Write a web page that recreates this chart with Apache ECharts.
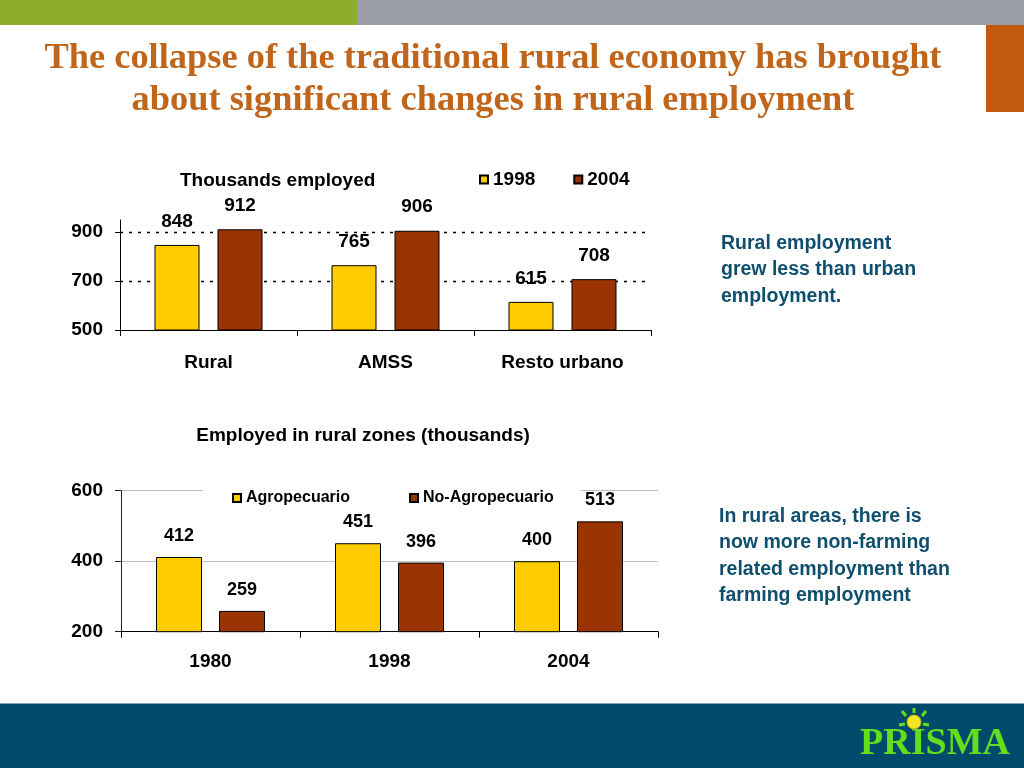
<!DOCTYPE html>
<html>
<head>
<meta charset="utf-8">
<script src="https://cdn.jsdelivr.net/npm/echarts@6/dist/echarts.min.js"></script>
<style>
html,body{margin:0;padding:0;background:#fff;}
#c{width:1024px;height:768px;}
</style>
</head>
<body>
<div id="c"></div>
<script>
// ---- data ----
const topCategories = ['Rural', 'AMSS', 'Resto urbano'];
const topSeriesNames = ['1998', '2004'];
const top1998 = [848, 765, 615];
const top2004 = [912, 906, 708];
const topYTicks = [500, 700, 900];
const topGuideLines = [700, 900];

const botCategories = ['1980', '1998', '2004'];
const botSeriesNames = ['Agropecuario', 'No-Agropecuario'];
const botAgro = [412, 451, 400];
const botNoAgro = [259, 396, 513];

const slideTitle = 'The collapse of the traditional rural economy has brought\nabout significant changes in rural employment';
const topChartTitle = 'Thousands employed';
const botChartTitle = 'Employed in rural zones (thousands)';
const note1 = 'Rural employment\ngrew less than urban\nemployment.';
const note2 = 'In rural areas, there is\nnow more non-farming\nrelated employment than\nfarming employment';

// ---- styles ----
const SANS = "'Liberation Sans', Arial, sans-serif";
const SERIF = "'Liberation Serif', 'Times New Roman', serif";
const YELLOW = '#FFCC00';
const BROWN = '#993300';

const chart = echarts.init(document.getElementById('c'), null, {renderer: 'canvas'});

const valueLabel = (size, dist) => ({
  show: true, position: 'top', distance: dist,
  color: '#000', fontFamily: SANS, fontWeight: 'bold', fontSize: size
});

const option = {
  animation: false,
  backgroundColor: '#fff',
  grid: [
    {left: 120, right: 373, top: 220, bottom: 438, outerBoundsMode: 'none'},
    {left: 121, right: 366, top: 490.7, bottom: 136.3, outerBoundsMode: 'none'}
  ],
  legend: [
    {
      data: topSeriesNames, left: 479, top: 170, padding: 0,
      itemWidth: 8, itemHeight: 8, itemGap: 38, icon: 'rect',
      textStyle: {fontFamily: SANS, fontWeight: 'bold', fontSize: 19, color: '#000'}
    },
    {
      data: botSeriesNames, left: 203, top: 486, padding: [4, 27, 4, 29],
      backgroundColor: '#fff',
      itemWidth: 8, itemHeight: 8, itemGap: 59, icon: 'rect',
      textStyle: {fontFamily: SANS, fontWeight: 'bold', fontSize: 16, color: '#000'}
    }
  ],
  xAxis: [
    {
      type: 'category', gridIndex: 0, data: topCategories,
      axisLine: {show: true, lineStyle: {color: '#000', width: 1}},
      axisTick: {show: true, length: 6, lineStyle: {color: '#000'}},
      axisLabel: {margin: 23, color: '#000', fontFamily: SANS, fontWeight: 'bold', fontSize: 19}
    },
    {
      type: 'category', gridIndex: 1, data: botCategories,
      axisLine: {show: true, lineStyle: {color: '#000', width: 1}},
      axisTick: {show: true, length: 6, lineStyle: {color: '#000'}},
      axisLabel: {margin: 21, color: '#000', fontFamily: SANS, fontWeight: 'bold', fontSize: 19}
    }
  ],
  yAxis: [
    {
      type: 'value', gridIndex: 0, min: 500, max: 950,
      axisLine: {show: true, lineStyle: {color: '#000', width: 1}},
      axisTick: {show: true, length: 5, customValues: topYTicks, lineStyle: {color: '#000'}},
      axisLabel: {customValues: topYTicks, margin: 17, color: '#000', fontFamily: SANS, fontWeight: 'bold', fontSize: 19},
      splitLine: {show: false}
    },
    {
      type: 'value', gridIndex: 1, min: 200, max: 600, interval: 200,
      axisLine: {show: true, lineStyle: {color: '#222', width: 1}},
      axisTick: {show: true, length: 6, lineStyle: {color: '#222'}},
      axisLabel: {margin: 18, color: '#000', fontFamily: SANS, fontWeight: 'bold', fontSize: 19},
      splitLine: {show: true, showMinLine: false, lineStyle: {color: '#BFBFBF', width: 1}}
    }
  ],
  series: [
    {
      name: topSeriesNames[0], type: 'bar', xAxisIndex: 0, yAxisIndex: 0,
      data: top1998, barWidth: 45, barGap: '40%',
      itemStyle: {color: YELLOW, borderColor: '#000', borderWidth: 1},
      label: valueLabel(19, 14),
      markLine: {
        silent: true, symbol: 'none', z: 1,
        label: {show: false},
        lineStyle: {color: '#000', width: 1.4, type: [3, 6]},
        data: topGuideLines.map(v => ({yAxis: v}))
      }
    },
    {
      name: topSeriesNames[1], type: 'bar', xAxisIndex: 0, yAxisIndex: 0,
      data: top2004, barWidth: 45, barGap: '40%',
      itemStyle: {color: BROWN, borderColor: '#000', borderWidth: 1},
      label: valueLabel(19, 14)
    },
    {
      name: botSeriesNames[0], type: 'bar', xAxisIndex: 1, yAxisIndex: 1,
      data: botAgro, barWidth: 46, barGap: '37%',
      itemStyle: {color: YELLOW, borderColor: '#000', borderWidth: 1},
      label: valueLabel(18, 12)
    },
    {
      name: botSeriesNames[1], type: 'bar', xAxisIndex: 1, yAxisIndex: 1,
      data: botNoAgro, barWidth: 46, barGap: '37%',
      itemStyle: {color: BROWN, borderColor: '#000', borderWidth: 1},
      label: valueLabel(18, 12)
    }
  ],
  graphic: [
    // top decorative bars
    {type: 'rect', z: 10, shape: {x: 0, y: 0, width: 357, height: 25}, style: {fill: '#8DAE2A'}},
    {type: 'rect', z: 10, shape: {x: 357, y: 0, width: 667, height: 25}, style: {fill: '#9D9FA8'}},
    {type: 'rect', z: 10, shape: {x: 986, y: 25, width: 38, height: 87}, style: {fill: '#C25A10'}},
    // bottom band
    {type: 'rect', z: 10, shape: {x: 0, y: 703, width: 1024, height: 65}, style: {fill: '#004A6B'}},
    {type: 'rect', z: 10, shape: {x: 0, y: 703, width: 1024, height: 1}, style: {fill: '#7FA8BA'}},
    // slide title
    {type: 'text', z: 10, x: 493, y: 80, style: {
      text: slideTitle, align: 'center', verticalAlign: 'middle', textAlign: 'center', textVerticalAlign: 'middle',
      lineHeight: 42, font: "bold 36.4px " + SERIF, fill: '#C0661C'}},
    // chart titles
    {type: 'text', z: 10, x: 180, y: 181, style: {
      text: topChartTitle, align: 'left', verticalAlign: 'middle', textAlign: 'left', textVerticalAlign: 'middle',
      font: "bold 19px " + SANS, fill: '#000'}},
    {type: 'text', z: 10, x: 363, y: 436, style: {
      text: botChartTitle, align: 'center', verticalAlign: 'middle', textAlign: 'center', textVerticalAlign: 'middle',
      font: "bold 19px " + SANS, fill: '#000'}},
    // notes
    {type: 'text', z: 10, x: 721, y: 270, style: {
      text: note1, align: 'left', verticalAlign: 'middle', textAlign: 'left', textVerticalAlign: 'middle',
      lineHeight: 26.5, font: "bold 19.5px " + SANS, fill: '#0F4F6E'}},
    {type: 'text', z: 10, x: 719, y: 556, style: {
      text: note2, align: 'left', verticalAlign: 'middle', textAlign: 'left', textVerticalAlign: 'middle',
      lineHeight: 26.3, font: "bold 19.5px " + SANS, fill: '#0F4F6E'}},
    // logo
    {type: 'text', z: 11, x: 935, y: 744, style: {
      text: 'PRISMA', align: 'center', verticalAlign: 'middle', textAlign: 'center', textVerticalAlign: 'middle',
      font: "bold 38px " + SERIF, fill: '#62DE1C'}},
    {type: 'circle', z: 12, shape: {cx: 914, cy: 722, r: 7}, style: {fill: '#F2E625', stroke: '#C8B400', lineWidth: 1}},
    {type: 'line', z: 11, shape: {x1: 914, y1: 713, x2: 914, y2: 708}, style: {stroke: '#62DE1C', lineWidth: 3}},
    {type: 'line', z: 11, shape: {x1: 906, y1: 716, x2: 902, y2: 711}, style: {stroke: '#62DE1C', lineWidth: 3}},
    {type: 'line', z: 11, shape: {x1: 922, y1: 716, x2: 926, y2: 711}, style: {stroke: '#62DE1C', lineWidth: 3}},
    {type: 'line', z: 11, shape: {x1: 905, y1: 724, x2: 899, y2: 725}, style: {stroke: '#62DE1C', lineWidth: 3}},
    {type: 'line', z: 11, shape: {x1: 923, y1: 724, x2: 929, y2: 725}, style: {stroke: '#62DE1C', lineWidth: 3}}
  ]
};
chart.setOption(option);
</script>
</body>
</html>
